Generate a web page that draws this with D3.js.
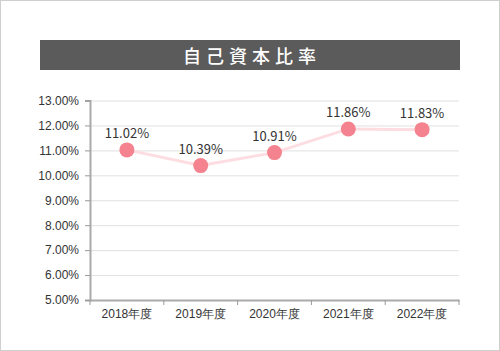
<!DOCTYPE html>
<html>
<head>
<meta charset="utf-8">
<script src="https://cdn.jsdelivr.net/npm/d3@7"></script>
<style>
  body { margin: 0; background: #fff; }
  svg { display: block; font-family: "Noto Sans CJK JP", "Noto Sans", sans-serif; }
</style>
</head>
<body>
<svg id="chart"></svg>
<script>
// Data
let title = '自己資本比率'
let years = ['2018年度', '2019年度', '2020年度', '2021年度', '2022年度']
let ratios = [11.02, 10.39, 10.91, 11.86, 11.83]
let yTicks = [5, 6, 7, 8, 9, 10, 11, 12, 13]

let width = 500
let height = 351
let margin = { top: 100.5, right: 41, bottom: 51, left: 90 }

let svg = d3.select('#chart')
    .attr('width', width)
    .attr('height', height)

// Frame
svg.append('rect')
    .attr('x', 0.5).attr('y', 0.5)
    .attr('width', width - 1).attr('height', height - 1)
    .attr('fill', '#fff')
    .attr('stroke', '#cfcfcf')

// Title bar
svg.append('rect')
    .attr('x', 40).attr('y', 40)
    .attr('width', 420).attr('height', 30)
    .attr('fill', '#5b5b5b')

svg.append('text')
    .attr('x', 252).attr('y', 55)
    .attr('text-anchor', 'middle')
    .attr('dominant-baseline', 'central')
    .attr('fill', '#fff')
    .attr('font-size', 18)
    .attr('font-weight', 500)
    .attr('letter-spacing', '5px')
    .text(title)

// Scales
let scale = {
    x: d3.scaleBand().domain(years).range([margin.left, width - margin.right]),
    y: d3.scaleLinear().domain([5, 13]).range([height - margin.bottom, margin.top])
}

// Grid
svg.append('g')
    .attr('transform', `translate(${margin.left},0)`)
    .call(d3.axisLeft(scale.y).tickValues(yTicks).tickFormat('').tickSize(-(width - margin.left - margin.right)))
    .call(g => g.select('.domain').remove())
    .call(g => g.selectAll('line').attr('stroke', '#e0e0e0'))

// Y axis
svg.append('g')
    .attr('transform', `translate(${margin.left},0)`)
    .call(d3.axisLeft(scale.y).tickValues(yTicks).tickFormat(d => d.toFixed(2) + '%').tickSize(5).tickPadding(6))
    .call(g => g.select('.domain').attr('stroke', '#aaa').attr('stroke-width', 2))
    .call(g => g.selectAll('.tick line').attr('stroke', '#999'))
    .call(g => g.selectAll('text').attr('font-size', 12).attr('fill', '#333').attr('font-family', null))

// X axis
svg.append('g')
    .attr('transform', `translate(0,${height - margin.bottom})`)
    .call(d3.axisBottom(scale.x).tickSize(0).tickPadding(9))
    .call(g => g.select('.domain').attr('stroke', '#aaa').attr('stroke-width', 2))
    .call(g => g.selectAll('text').attr('font-size', 12).attr('font-weight', 500).attr('fill', '#333').attr('font-family', null))

// X ticks at band edges
let edges = years.map(d => scale.x(d)).concat([scale.x.range()[1]])
svg.append('g')
    .selectAll('line')
    .data(edges)
    .enter()
    .append('line')
    .attr('x1', d => d).attr('x2', d => d)
    .attr('y1', height - margin.bottom)
    .attr('y2', height - margin.bottom + 5)
    .attr('stroke', '#999')

let cx = d => scale.x(d) + scale.x.bandwidth() / 2
let dataset = years.map((y, i) => ({ year: y, value: ratios[i] }))

// Line
let line = d3.line()
    .x(d => cx(d.year))
    .y(d => scale.y(d.value))

svg.append('path')
    .datum(dataset)
    .attr('d', line)
    .attr('fill', 'none')
    .attr('stroke', '#fddde1')
    .attr('stroke-width', 3)

// Points
svg.selectAll('circle.pt')
    .data(dataset)
    .enter()
    .append('circle')
    .attr('class', 'pt')
    .attr('cx', d => cx(d.year))
    .attr('cy', d => scale.y(d.value))
    .attr('r', 7.5)
    .attr('fill', '#f4838f')

// Labels
svg.selectAll('text.lbl')
    .data(dataset)
    .enter()
    .append('text')
    .attr('class', 'lbl')
    .attr('x', d => cx(d.year))
    .attr('y', d => scale.y(d.value) - 12)
    .attr('text-anchor', 'middle')
    .attr('font-size', 13)
    .attr('fill', '#333')
    .text(d => d.value.toFixed(2) + '%')
</script>
</body>
</html>
